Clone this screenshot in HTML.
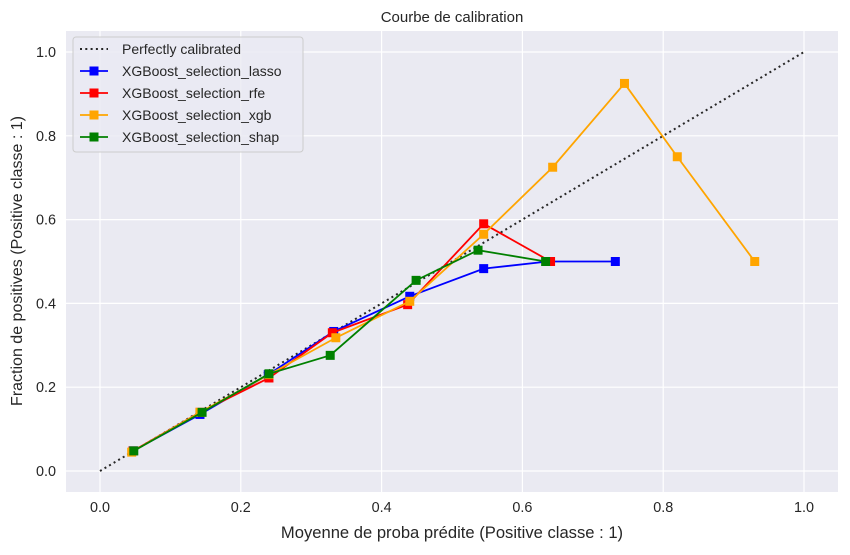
<!DOCTYPE html>
<html><head><meta charset="utf-8"><style>
body{margin:0;background:#fff;width:850px;height:550px;overflow:hidden}
svg text{font-family:"Liberation Sans",Arial,sans-serif;fill:#262626}
</style></head><body>
<svg id="chart" width="850" height="550" xmlns="http://www.w3.org/2000/svg">
<rect x="66" y="31" width="772" height="461" fill="#eaeaf2"/>
<g id="grid"></g><g id="ticks"></g><g id="series"></g>
<text x="452" y="22" text-anchor="middle" font-size="15">Courbe de calibration</text>
<text x="452" y="538" text-anchor="middle" font-size="16.6">Moyenne de proba prédite (Positive classe : 1)</text>
<text transform="translate(22,261) rotate(-90)" text-anchor="middle" font-size="16">Fraction de positives (Positive classe : 1)</text>
<g id="legend"></g>
</svg>
<script>
const ticks=[0,0.2,0.4,0.6,0.8,1.0];
const tickLabels=["0.0","0.2","0.4","0.6","0.8","1.0"];
const seriesNames=["XGBoost_selection_lasso","XGBoost_selection_rfe","XGBoost_selection_xgb","XGBoost_selection_shap"];
const seriesColors=["#0000ff","#ff0000","#ffa500","#008000"];
const lassoX=[0.047,0.142,0.239,0.332,0.44,0.545,0.636,0.732];
const lassoY=[0.048,0.135,0.23,0.333,0.417,0.483,0.5,0.5];
const rfeX=[0.047,0.142,0.24,0.33,0.437,0.545,0.64];
const rfeY=[0.048,0.14,0.222,0.33,0.397,0.59,0.5];
const xgbX=[0.045,0.142,0.24,0.335,0.44,0.545,0.643,0.745,0.82,0.93];
const xgbY=[0.045,0.14,0.23,0.318,0.405,0.565,0.725,0.925,0.75,0.5];
const shapX=[0.048,0.145,0.24,0.327,0.449,0.537,0.633];
const shapY=[0.048,0.14,0.232,0.276,0.455,0.527,0.5];
const xs=v=>100+v*704, ys=v=>471-v*419;
const NS="http://www.w3.org/2000/svg";
function mk(t,a,p){const e=document.createElementNS(NS,t);for(const k in a)e.setAttribute(k,a[k]);p.appendChild(e);return e;}
const grid=document.getElementById('grid'),tk=document.getElementById('ticks');
ticks.forEach((t,i)=>{
 const gx=mk('line',{x1:xs(t),x2:xs(t),y1:31,y2:492,stroke:'#fff','stroke-width':1.2},grid);
 
 
 const gy=mk('line',{x1:66,x2:838,y1:ys(t),y2:ys(t),stroke:'#fff','stroke-width':1.2},grid);
 
 
 const lx=mk('text',{x:xs(t),y:512,'text-anchor':'middle','font-size':14.4},tk);lx.textContent=tickLabels[i];
 
 
 const ly=mk('text',{x:56,y:ys(t)+5,'text-anchor':'end','font-size':14.4},tk);ly.textContent=tickLabels[i];
 
 
});
const sg=document.getElementById('series');
const diag=mk('line',{x1:xs(0),y1:ys(0),x2:xs(1),y2:ys(1),stroke:'#262626','stroke-width':2,'stroke-dasharray':'2 3.3'},sg);


const data=[[lassoX,lassoY],[rfeX,rfeY],[xgbX,xgbY],[shapX,shapY]];
data.forEach((d,si)=>{
 const g=mk('g',{},sg);
 
 
 mk('polyline',{points:d[0].map((x,i)=>xs(x)+','+ys(d[1][i])).join(' '),fill:'none',stroke:seriesColors[si],'stroke-width':1.8},g);
 d[0].forEach((x,i)=>{
  const m=mk('rect',{x:xs(x)-4.5,y:ys(d[1][i])-4.5,width:9,height:9,fill:seriesColors[si]},g);
  
  
 });
});
const lg=document.getElementById('legend');
mk('rect',{x:73,y:37,width:230,height:115,rx:3,fill:'#eaeaf2',stroke:'#ccc','fill-opacity':0.8},lg);
const names=["Perfectly calibrated"].concat(seriesNames);
names.forEach((n,i)=>{
 const y=49+i*22;
 const e=mk('g',{},lg);
 
 
 if(i==0) mk('line',{x1:80,x2:108,y1:y,y2:y,stroke:'#262626','stroke-width':2,'stroke-dasharray':'2 3.3'},e);
 else{mk('line',{x1:80,x2:108,y1:y,y2:y,stroke:seriesColors[i-1],'stroke-width':1.8},e);
  mk('rect',{x:89.5,y:y-4.5,width:9,height:9,fill:seriesColors[i-1]},e);}
 const t=mk('text',{x:122,y:y+5,'font-size':14},e);t.textContent=n;
});
</script>
</body></html>
